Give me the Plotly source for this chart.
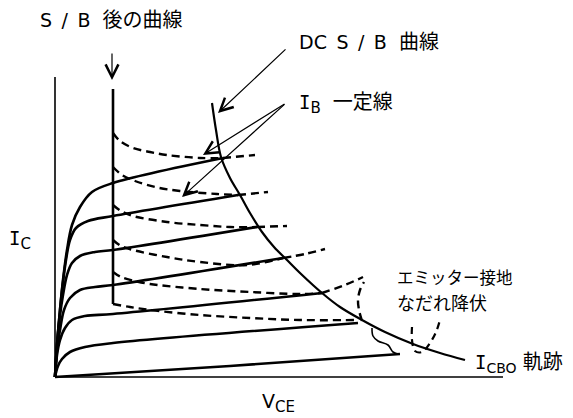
import plotly.graph_objects as go

# ---- data (V_CE, I_C in drawing units) ----
# I_B = const solid curves (bottom to top)
c0_v = [0, 175, 345]
c0_i = [0, 11, 23]
c1_v = [0, 3, 7, 15, 30, 58, 303]
c1_i = [0, 11, 18, 25, 30, 34, 54]
c2_v = [0, 2, 5, 10, 17, 30, 58, 267]
c2_i = [0, 22, 37, 49, 57, 61, 63, 84]
c3_v = [0, 2, 5, 9, 15, 25, 40, 58, 228]
c3_i = [0, 27, 47, 67, 79, 87, 90, 92, 119]
c4_v = [0, 2, 5, 8, 12, 17, 25, 40, 58, 202]
c4_i = [0, 32, 62, 82, 102, 114, 121, 125, 127, 150]
c5_v = [0, 2, 5, 8, 11, 15, 21, 33, 58, 183]
c5_i = [0, 32, 67, 95, 117, 137, 149, 156, 161, 182]
c6_v = [0, 2, 5, 8, 12, 17, 25, 37, 58, 168]
c6_i = [0, 32, 67, 97, 127, 152, 170, 185, 194, 219]

# dashed extensions beyond the DC S/B curve
e6_v = [168, 200]; e6_i = [219, 222]
e5_v = [183, 213]; e5_i = [182, 185]
e4_v = [202, 232]; e4_i = [150, 151]
e3_v = [228, 250, 270]; e3_i = [119, 123, 128]
e2_v = [267, 290, 308]; e2_i = [84, 92, 100]
e1_v = [307, 304, 303, 305, 309]; e1_i = [56, 67, 77, 87, 95]

# curves after S/B (dashed)
sb_v = [58, 58]; sb_i = [288, 73]
d1_v = [58, 65, 78, 95, 112, 145, 168]; d1_i = [244, 236, 229, 225, 222, 219, 219]
d2_v = [58, 67, 80, 100, 125, 162, 183]; d2_i = [210, 202, 196, 190, 186, 183, 182]
d3_v = [58, 66, 78, 112, 145, 175, 202]; d3_i = [172, 166, 161, 155, 152, 150, 150]
d4_v = [58, 66, 78, 112, 145, 192, 228]; d4_i = [137, 131, 127, 120, 115, 112, 119]
d5_v = [58, 66, 80, 95, 145, 195, 245, 267]; d5_i = [105, 100, 96, 93, 88, 85, 83, 84]
d6_v = [58, 75, 95, 145, 195, 245, 302]; d6_i = [73, 70, 67, 62, 59, 57, 57]

# DC S/B curve / I_CBO locus
dc_v = [157, 161, 166, 175, 185, 195, 207, 219, 232, 245, 267, 285, 307, 330, 358, 385, 410]
dc_i = [274, 247, 220, 199, 182, 164, 145, 130, 117, 104, 84, 70, 57, 45, 33, 24, 17]

# avalanche breakdown (squiggle) and dashed bracket
sq_v = [317, 318, 323, 333, 338, 343]; sq_i = [49, 41, 36, 32, 25, 23]
br_v = [357, 357, 360, 367, 375, 381, 385]; br_i = [50, 37, 26, 25, 34, 45, 57]

# axes
yaxis_v = [0, 0]; yaxis_i = [300, 0]
xaxis_v = [0, 448]; xaxis_i = [0, 0]

BLACK = "black"
DASH = "8px,5px"

fig = go.Figure()

def add(v, i, width=2.5, dash="solid", shape="spline"):
    fig.add_trace(go.Scatter(x=v, y=i, mode="lines",
                             line=dict(color=BLACK, width=width, dash=dash,
                                       shape=shape, smoothing=1.0),
                             hoverinfo="skip", showlegend=False))

add(yaxis_v, yaxis_i, width=1.6, shape="linear")
add(xaxis_v, xaxis_i, width=1.6, shape="linear")

for v, i in [(c0_v, c0_i), (c1_v, c1_i), (c2_v, c2_i), (c3_v, c3_i),
             (c4_v, c4_i), (c5_v, c5_i), (c6_v, c6_i)]:
    add(v, i, width=2.6)

for v, i in [(e6_v, e6_i), (e5_v, e5_i), (e4_v, e4_i), (e3_v, e3_i),
             (e2_v, e2_i), (e1_v, e1_i)]:
    add(v, i, width=2.4, dash=DASH)

add(sb_v, sb_i, width=2.6, shape="linear")
for v, i in [(d1_v, d1_i), (d2_v, d2_i), (d3_v, d3_i), (d4_v, d4_i),
             (d5_v, d5_i), (d6_v, d6_i)]:
    add(v, i, width=2.4, dash=DASH)

add(dc_v, dc_i, width=2.2)
add(sq_v, sq_i, width=1.6)
add(br_v, br_i, width=2.2, dash="7px,5px")

FONT = "DejaVu Sans, Noto Sans CJK JP, sans-serif"
MONO_I = '<span style="font-family:DejaVu Sans Mono">I</span>'
EN = "\u2002"

def sub(t, size=15):
    return f'<sub><span style="font-size:{size}px">{t}</span></sub>'

def jp(t, size=20):
    return f'<span style="font-size:{size}px">{t}</span>'

def arrow(hv, hi, tv, ti):
    fig.add_annotation(x=hv, y=hi, ax=tv, ay=ti, xref="x", yref="y",
                       axref="x", ayref="y", text="", showarrow=True,
                       arrowhead=5, arrowsize=2.1, arrowwidth=1.2,
                       arrowcolor=BLACK)

arrow(57, 297, 57, 325)
arrow(163, 264, 232, 329)
arrow(148, 222, 231, 274)
arrow(127, 180, 231, 274)

def label(v, i, text, size=19, xanchor="center"):
    fig.add_annotation(x=v, y=i, xref="x", yref="y", text=text,
                       showarrow=False, xanchor=xanchor, yanchor="middle",
                       font=dict(family=FONT, size=size, color=BLACK))

label(-17, 357, f"S{EN}/{EN}B&nbsp;&nbsp;" + jp("後の曲線"), xanchor="left")
label(242, 335, f"DC{EN}S{EN}/{EN}B&nbsp;&nbsp;" + jp("曲線"), xanchor="left")
label(242, 274, MONO_I + sub("B") + "&nbsp;&nbsp;" + jp("一定線"), xanchor="left")
label(-35, 137, MONO_I + sub("C"))
label(223, -26, "V" + sub("CE"))
label(418, 14, MONO_I + sub("CBO", 14) + "&nbsp;" + jp("軌跡"), xanchor="left")
label(340, 99, "エミッター接地", size=16.5, xanchor="left")
label(340, 74, "なだれ降伏", size=18, xanchor="left")

# the page body has an 8px margin: ranges are shifted so marks land in place
fig.update_layout(
    width=573, height=418,
    margin=dict(l=0, r=0, t=0, b=0),
    paper_bgcolor="white", plot_bgcolor="white",
    xaxis=dict(range=[-47, 526], visible=False, fixedrange=True),
    yaxis=dict(range=[-49, 369], visible=False, fixedrange=True),
)

fig.write_html("out.html")
